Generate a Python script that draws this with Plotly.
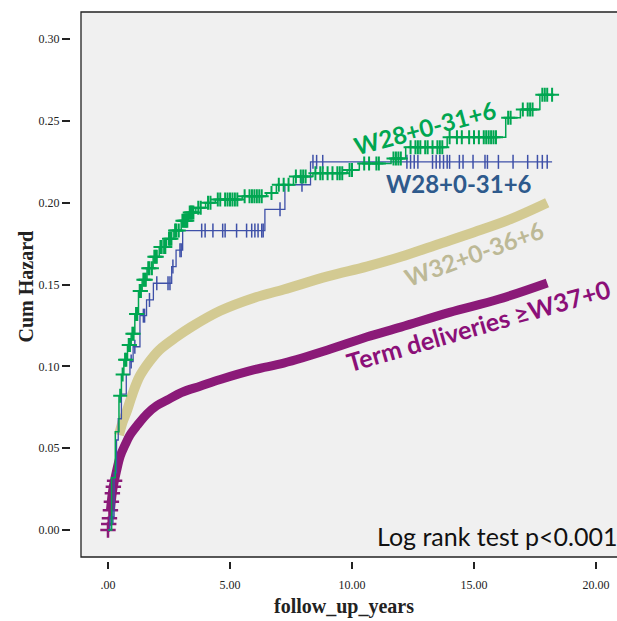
import numpy as np
import plotly.graph_objects as go

# ---------------- data ----------------
# Term deliveries >= W37+0 (cumulative hazard, smooth because of many events)
term_t = [0.0, 0.1, 0.2, 0.35, 0.5, 0.7, 0.9, 1.2, 1.6, 2.0, 2.5, 3.0, 3.8, 4.6,
          6.0, 7.2, 9.0, 10.6, 12.0, 14.0, 16.0, 18.0]
term_h = [0.0, 0.012, 0.025, 0.036, 0.045, 0.052, 0.058, 0.064, 0.071, 0.076, 0.080,
          0.084, 0.088, 0.092, 0.098, 0.102, 0.110, 0.118, 0.124, 0.133, 0.141, 0.151]
term_cens_t = [0.0, 0.03, 0.06, 0.1, 0.14, 0.18, 0.22, 0.27]

# W32+0-36+6
w32_t = [0.45, 0.6, 0.78, 1.0, 1.3, 1.7, 2.1, 2.8, 3.4, 4.6, 6.0, 7.2, 9.0, 10.6,
         12.0, 13.6, 15.0, 16.5, 18.0]
w32_h = [0.058, 0.066, 0.073, 0.083, 0.094, 0.103, 0.110, 0.118, 0.124, 0.134, 0.142,
         0.147, 0.155, 0.161, 0.167, 0.175, 0.182, 0.190, 0.200]

# W28+0-31+6 (green) step function
g_t = [0.0, 0.15, 0.3, 0.45, 0.55, 0.65, 0.8, 0.95, 1.1, 1.25, 1.4, 1.6, 1.85, 2.1,
       2.4, 2.7, 3.0, 3.3, 3.6, 4.0, 4.4, 5.5, 6.5, 6.9, 7.6, 8.4, 9.8, 10.3, 11.6,
       12.2, 13.9, 16.3, 16.9, 17.7, 18.2]
g_h = [0.0, 0.032, 0.060, 0.082, 0.095, 0.104, 0.113, 0.120, 0.132, 0.146, 0.153,
       0.160, 0.167, 0.173, 0.178, 0.183, 0.189, 0.194, 0.197, 0.200, 0.202, 0.204,
       0.206, 0.211, 0.216, 0.218, 0.220, 0.224, 0.227, 0.234, 0.240, 0.252, 0.257,
       0.266, 0.266]
g_cens_t = [0.5, 0.6, 0.7, 0.75, 0.85, 0.9, 1.0, 1.05, 1.15, 1.2, 1.3, 1.35, 1.45, 1.5,
            1.55, 1.65, 1.7, 1.8, 1.9, 1.95, 2.0, 2.15, 2.2, 2.3, 2.35, 2.5, 2.55, 2.6,
            2.75, 2.8, 2.9, 3.05, 3.1, 3.15, 3.2, 3.25, 3.35, 3.4, 3.45, 3.5, 3.7, 3.8,
            4.1, 4.2, 4.5, 4.6, 4.8, 4.9, 5.0, 5.1, 5.2, 5.3, 5.6, 5.8, 5.9, 6.0,
            6.1, 6.2, 6.3, 6.7, 7.0, 7.2, 7.4, 7.7, 7.9, 8.0, 8.1, 8.5, 8.7, 8.8,
            9.0, 9.2, 9.4, 9.5, 9.6, 9.9, 10.0, 10.5, 10.7, 11.0, 11.1, 11.7, 11.8,
            11.9, 12.0, 12.4, 12.6, 12.7, 12.8, 13.0, 13.1, 13.3, 13.5, 13.6, 13.7,
            14.0, 14.3, 14.5, 14.8, 15.0, 15.2, 15.4, 15.5, 15.6, 15.7, 15.8, 15.9,
            16.4, 16.5, 17.0, 17.2, 17.3, 17.4, 17.8, 17.9, 18.0, 18.2]

# W28+0-31+6 (blue) step function
b_t = [0.0, 0.08, 0.25, 0.35, 0.42, 0.55, 0.75, 0.9, 1.03, 1.31, 1.58, 1.86, 2.61,
       2.79, 3.06, 6.43, 7.25, 8.3, 18.2]
b_h = [0.0, 0.008, 0.035, 0.055, 0.068, 0.083, 0.095, 0.103, 0.112, 0.131, 0.1406,
       0.1508, 0.161, 0.171, 0.183, 0.196, 0.211, 0.225, 0.225]
b_cens_t = [0.2, 0.95, 1.1, 1.45, 1.5, 1.7, 2.0, 2.46, 2.54, 2.66, 2.95, 3.0, 3.84,
            3.98, 4.3, 4.7, 4.8, 5.27, 5.68, 5.89, 6.02, 6.15, 6.3, 6.36, 7.05, 7.95,
            8.4, 8.55, 8.8, 12.25, 12.4, 12.55, 12.7, 13.3, 13.45, 13.6, 13.75, 13.9,
            14.0, 14.4, 14.55, 14.96, 15.45, 15.55, 16.0, 16.6, 17.2, 17.6, 17.8, 18.0]

x_tickvals = [0, 5, 10, 15, 20]
x_ticktext = [".00", "5.00", "10.00", "15.00", "20.00"]
y_tickvals = [0.0, 0.05, 0.10, 0.15, 0.20, 0.25, 0.30]

labels = ["W28+0-31+6", "W28+0-31+6", "W32+0-36+6", "Term deliveries \u2265W37+0"]

# ---------------- helpers ----------------
def step_lookup(times, vals, q):
    idx = np.searchsorted(np.array(times), np.array(q), side="right") - 1
    idx = np.clip(idx, 0, len(vals) - 1)
    return list(np.array(vals)[idx])

GREEN = "#00A651"
BLUE = "#3E50A8"
BEIGE = "#D3CA92"
PURPLE = "#8B1A78"

fig = go.Figure()

# purple band
fig.add_trace(go.Scatter(x=term_t[1:], y=term_h[1:], mode="lines",
                         line=dict(color=PURPLE, width=9, shape="spline"),
                         hoverinfo="skip"))
fig.add_trace(go.Scatter(x=term_cens_t, y=list(np.interp(term_cens_t, term_t, term_h)),
                         mode="markers",
                         marker=dict(symbol="cross-thin", size=11,
                                     line=dict(color=PURPLE, width=2.5)),
                         hoverinfo="skip"))
# beige band
fig.add_trace(go.Scatter(x=w32_t, y=w32_h, mode="lines",
                         line=dict(color=BEIGE, width=10, shape="spline"),
                         hoverinfo="skip"))
# blue step line + censor ticks
fig.add_trace(go.Scatter(x=b_t, y=b_h, mode="lines",
                         line=dict(color=BLUE, width=1.3, shape="hv"),
                         hoverinfo="skip"))
fig.add_trace(go.Scatter(x=b_cens_t, y=step_lookup(b_t, b_h, b_cens_t), mode="markers",
                         marker=dict(symbol="line-ns", size=10,
                                     line=dict(color=BLUE, width=1.5)),
                         hoverinfo="skip"))
# green step line + censor crosses
fig.add_trace(go.Scatter(x=g_t, y=g_h, mode="lines",
                         line=dict(color=GREEN, width=1.5, shape="hv"),
                         hoverinfo="skip"))
fig.add_trace(go.Scatter(x=g_cens_t, y=step_lookup(g_t, g_h, g_cens_t), mode="markers",
                         marker=dict(symbol="cross-thin", size=10,
                                     line=dict(color=GREEN, width=2)),
                         hoverinfo="skip"))

label_font = "Lato, 'Open Sans', sans-serif"
serif = "'Liberation Serif', 'Times New Roman', serif"
ann = [
    dict(x=13.0, y=0.2463, text="<b>%s</b>" % labels[0], textangle=-15,
         font=dict(color="#00A651", size=24, family=label_font)),
    dict(x=14.39, y=0.2115, text="<b>%s</b>" % labels[1], textangle=0,
         font=dict(color="#2E5A8C", size=24, family=label_font)),
    dict(x=15.0, y=0.1693, text="<b>%s</b>" % labels[2], textangle=-20,
         font=dict(color="#BDB996", size=24, family=label_font)),
    dict(x=15.2, y=0.1253, text="<b>%s</b>" % labels[3], textangle=-16,
         font=dict(color="#8B0F78", size=25, family=label_font)),
    dict(x=10.95, y=-0.0035, text="Log rank test p<0.001", xanchor="left",
         font=dict(color="#111111", size=25, family=label_font)),
    dict(xref="paper", yref="paper", x=0.5, y=0, yshift=-45, yanchor="middle",
         xanchor="center", text="<b>follow_up_years</b>",
         font=dict(color="#222222", size=20, family=serif)),
    dict(xref="paper", yref="paper", x=0, xshift=-46, y=0.5, xanchor="center",
         yanchor="middle", textangle=-90, text="<b>Cum Hazard</b>",
         font=dict(color="#222222", size=20, family=serif)),
]
for a in ann:
    a.setdefault("showarrow", False)
fig.update_layout(annotations=ann)

# frame with inner grey background (ticks detached from frame)
fig.add_shape(type="rect", xref="paper", yref="paper", x0=10 / 546, x1=1.1,
              y0=4 / 549, y1=1, line=dict(color="#222222", width=1.3),
              fillcolor="#F0F0F0", layer="below")

fig.update_layout(
    width=617, height=621,
    margin=dict(l=71, r=0, t=12, b=60),
    paper_bgcolor="white", plot_bgcolor="white",
    showlegend=False,
    xaxis=dict(range=[-1.516, 20.86], tickvals=x_tickvals, ticktext=x_ticktext,
               showgrid=False, zeroline=False, showline=False,
               ticks="outside", ticklen=7, tickwidth=2, tickcolor="#222222",
               tickfont=dict(family=serif, size=12, color="#222222"),
               ticklabelstandoff=6),
    yaxis=dict(range=[-0.01895, 0.3166], tickvals=y_tickvals, tickformat=".2f",
               showgrid=False, zeroline=False, showline=False,
               ticks="outside", ticklen=8, tickwidth=2, tickcolor="#222222",
               tickfont=dict(family=serif, size=12, color="#222222")),
)

# remove the default page margin so the figure fills the window exactly
fig.write_html("out.html",
               config={"displayModeBar": False},
               post_script="document.body.style.margin='0';"
                           "document.body.style.overflow='hidden';")
